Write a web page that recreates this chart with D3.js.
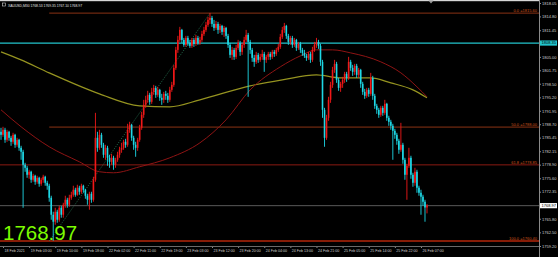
<!DOCTYPE html>
<html>
<head>
<meta charset="utf-8">
<script src="https://cdn.jsdelivr.net/npm/d3@7"></script>
<style>
    body { margin: 0; background: #000; overflow: hidden; }
    svg { display: block; }
    .axis text { font-family: "Liberation Sans", Arial, sans-serif; fill: #cfcfcf; }
    .axis line { stroke: #8a8a8a; }
    .axis path { display: none; }
</style>
</head>
<body>
<div id="xau_chart"></div>
<script>
        // XAUUSD M30, one value per bar
        var opens = [
            1786.86, 1786.13, 1787.34, 1784.92, 1786.86, 1785.40, 1784.44, 1786.13, 1783.71, 1784.92,
            1782.98, 1782.02, 1778.87, 1778.14, 1776.45, 1777.18, 1775.24, 1776.21, 1774.76, 1775.72,
            1774.27, 1775.24, 1775.97, 1774.51, 1773.79, 1770.88, 1766.77, 1765.08, 1767.50, 1765.56,
            1768.46, 1766.77, 1769.19, 1770.40, 1769.19, 1770.88, 1771.61, 1772.82, 1771.61, 1773.31,
            1772.34, 1773.79, 1772.82, 1771.37, 1770.40, 1771.85, 1770.40, 1775.24, 1785.40, 1782.98,
            1786.13, 1783.71, 1781.29, 1782.98, 1780.56, 1779.59, 1780.56, 1778.87, 1780.08, 1781.29,
            1782.50, 1782.98, 1784.44, 1783.71, 1787.34, 1788.55, 1785.40, 1783.71, 1782.98, 1784.92,
            1787.82, 1790.97, 1793.39, 1794.60, 1795.81, 1794.12, 1796.53, 1797.50, 1795.81, 1797.02,
            1795.08, 1794.60, 1796.05, 1795.57, 1794.60, 1797.02, 1798.23, 1802.34, 1806.70, 1809.12,
            1811.54, 1809.12, 1807.91, 1809.60, 1808.39, 1807.67, 1809.12, 1808.15, 1809.60, 1808.39,
            1809.12, 1810.57, 1811.54, 1812.75, 1813.96, 1814.44, 1812.99, 1812.02, 1812.99, 1811.54,
            1812.51, 1811.06, 1812.02, 1810.09, 1807.91, 1805.49, 1806.70, 1805.01, 1807.18, 1808.39,
            1806.22, 1807.91, 1809.12, 1810.33, 1808.63, 1806.70, 1804.76, 1803.80, 1805.49, 1804.28,
            1805.01, 1805.73, 1804.28, 1805.01, 1805.73, 1805.01, 1806.22, 1805.73, 1806.70, 1807.43,
            1809.85, 1811.54, 1812.51, 1810.09, 1808.63, 1809.60, 1807.91, 1809.12, 1807.18, 1808.15,
            1806.70, 1805.97, 1805.25, 1804.76, 1805.73, 1804.28, 1806.70, 1807.91, 1808.63, 1807.67,
            1803.80, 1792.18, 1785.40, 1790.24, 1794.60, 1798.23, 1801.86, 1803.31, 1799.44, 1797.50,
            1798.47, 1799.44, 1800.89, 1799.92, 1803.80, 1802.34, 1801.38, 1802.83, 1800.65, 1801.86,
            1798.47, 1796.53, 1795.57, 1797.02, 1796.05, 1799.92, 1795.57, 1793.15, 1792.18, 1790.97,
            1792.66, 1791.45, 1793.63, 1790.24, 1789.28, 1788.31, 1787.10, 1786.13, 1784.68, 1782.50,
            1783.71, 1780.08, 1776.45, 1778.63, 1780.56, 1776.45, 1774.51, 1777.18, 1773.31, 1772.09,
            1771.13, 1769.92, 1768.53
        ];
        var highs = [
            1787.82, 1788.07, 1787.82, 1787.34, 1787.10, 1785.89, 1786.61, 1786.37, 1785.40, 1785.16,
            1783.47, 1782.50, 1779.35, 1778.63, 1777.66, 1777.42, 1776.69, 1776.45, 1776.21, 1775.97,
            1775.72, 1776.45, 1776.21, 1775.00, 1774.27, 1771.37, 1767.50, 1768.46, 1767.98, 1768.95,
            1768.95, 1769.67, 1771.37, 1770.88, 1771.61, 1772.34, 1773.79, 1773.31, 1774.03, 1773.79,
            1774.27, 1774.03, 1773.06, 1771.85, 1772.34, 1772.34, 1775.97, 1791.45, 1786.86, 1787.34,
            1786.61, 1784.19, 1783.71, 1783.47, 1781.29, 1781.53, 1781.05, 1780.56, 1782.02, 1783.23,
            1784.19, 1784.92, 1785.16, 1788.79, 1789.28, 1788.79, 1785.89, 1784.44, 1785.40, 1788.55,
            1791.70, 1794.60, 1795.57, 1796.78, 1796.29, 1797.50, 1798.23, 1797.99, 1797.75, 1797.26,
            1796.05, 1796.53, 1796.78, 1796.29, 1797.75, 1798.96, 1803.07, 1807.43, 1810.09, 1812.27,
            1811.78, 1809.60, 1810.09, 1810.09, 1809.12, 1809.60, 1809.60, 1810.33, 1810.09, 1809.85,
            1811.30, 1812.27, 1813.48, 1814.69, 1815.65, 1814.93, 1813.96, 1813.72, 1813.48, 1812.99,
            1812.75, 1812.51, 1812.27, 1810.57, 1808.39, 1807.43, 1807.18, 1807.91, 1809.12, 1808.88,
            1808.39, 1809.85, 1811.54, 1810.81, 1809.12, 1807.18, 1805.49, 1806.22, 1805.97, 1805.73,
            1806.70, 1806.22, 1805.49, 1806.22, 1806.22, 1806.70, 1806.70, 1807.18, 1808.15, 1810.57,
            1812.27, 1813.23, 1812.75, 1810.57, 1810.09, 1810.09, 1809.60, 1809.36, 1808.63, 1808.63,
            1807.18, 1806.70, 1805.73, 1806.22, 1806.22, 1807.43, 1808.63, 1809.60, 1809.12, 1808.15,
            1804.28, 1792.66, 1790.97, 1795.33, 1798.96, 1802.59, 1804.28, 1803.80, 1799.92, 1798.96,
            1800.17, 1801.38, 1801.38, 1805.01, 1804.28, 1803.07, 1803.31, 1803.31, 1802.34, 1802.10,
            1798.96, 1797.26, 1797.50, 1797.50, 1801.13, 1800.41, 1796.05, 1793.63, 1792.66, 1793.15,
            1793.15, 1794.60, 1793.87, 1790.73, 1789.76, 1788.79, 1787.58, 1786.61, 1785.16, 1789.03,
            1784.19, 1780.56, 1779.11, 1782.98, 1781.05, 1776.93, 1778.14, 1777.66, 1773.79, 1772.82,
            1771.61, 1770.40, 1769.35
        ];
        var lows = [
            1784.92, 1785.65, 1784.19, 1784.44, 1784.68, 1783.47, 1783.95, 1782.98, 1783.23, 1782.26,
            1780.08, 1768.46, 1777.18, 1775.72, 1775.48, 1774.51, 1774.76, 1774.03, 1774.27, 1773.55,
            1773.79, 1774.51, 1773.79, 1772.82, 1769.92, 1765.56, 1760.48, 1764.35, 1764.83, 1765.08,
            1766.05, 1766.05, 1768.46, 1768.46, 1768.71, 1770.40, 1771.13, 1771.13, 1771.37, 1771.61,
            1771.85, 1772.09, 1770.64, 1769.19, 1767.98, 1769.67, 1769.92, 1774.76, 1782.02, 1782.50,
            1782.98, 1780.56, 1780.08, 1778.63, 1778.14, 1778.87, 1777.66, 1778.14, 1779.59, 1780.56,
            1781.77, 1782.50, 1782.98, 1783.23, 1786.61, 1784.68, 1782.50, 1780.81, 1782.26, 1784.44,
            1787.34, 1790.24, 1792.66, 1793.87, 1793.39, 1793.63, 1795.81, 1795.08, 1795.33, 1794.36,
            1793.39, 1793.87, 1794.60, 1793.87, 1794.12, 1796.53, 1797.75, 1801.86, 1805.97, 1808.63,
            1808.39, 1807.43, 1807.43, 1807.67, 1807.18, 1807.18, 1807.43, 1807.67, 1807.91, 1807.91,
            1808.63, 1810.09, 1811.06, 1812.27, 1812.99, 1812.27, 1811.30, 1811.54, 1810.57, 1810.81,
            1810.33, 1809.85, 1809.36, 1807.18, 1804.76, 1804.28, 1804.28, 1804.52, 1806.70, 1805.25,
            1805.49, 1807.18, 1808.63, 1795.33, 1805.73, 1803.80, 1802.59, 1803.31, 1803.55, 1803.80,
            1804.28, 1801.38, 1803.55, 1804.28, 1804.28, 1804.52, 1805.01, 1805.25, 1806.22, 1806.94,
            1809.36, 1810.81, 1809.36, 1807.91, 1807.91, 1807.18, 1807.43, 1806.46, 1806.70, 1805.97,
            1805.25, 1804.76, 1804.04, 1804.28, 1803.55, 1803.80, 1806.22, 1807.18, 1806.94, 1802.83,
            1790.24, 1783.23, 1784.92, 1789.52, 1793.87, 1797.50, 1801.13, 1798.71, 1796.78, 1796.53,
            1797.50, 1798.71, 1798.96, 1799.44, 1801.62, 1800.41, 1800.65, 1799.92, 1799.92, 1797.50,
            1795.81, 1794.84, 1795.08, 1795.33, 1795.57, 1794.60, 1792.42, 1791.21, 1790.24, 1790.49,
            1790.73, 1790.97, 1789.52, 1788.31, 1787.34, 1780.08, 1785.16, 1783.71, 1781.53, 1782.02,
            1779.11, 1775.24, 1770.40, 1778.14, 1775.48, 1773.55, 1773.79, 1772.09, 1771.37, 1766.77,
            1768.95, 1765.08, 1767.10
        ];
        var closes = [
            1786.13, 1787.34, 1784.92, 1786.86, 1785.40, 1784.44, 1786.13, 1783.71, 1784.92, 1782.98,
            1782.02, 1778.87, 1778.14, 1776.45, 1777.18, 1775.24, 1776.21, 1774.76, 1775.72, 1774.27,
            1775.24, 1775.97, 1774.51, 1773.79, 1770.88, 1766.77, 1765.08, 1767.50, 1765.56, 1768.46,
            1766.77, 1769.19, 1770.40, 1769.19, 1770.88, 1771.61, 1772.82, 1771.61, 1773.31, 1772.34,
            1773.79, 1772.82, 1771.37, 1770.40, 1771.85, 1770.40, 1775.24, 1785.40, 1782.98, 1786.13,
            1783.71, 1781.29, 1782.98, 1780.56, 1779.59, 1780.56, 1778.87, 1780.08, 1781.29, 1782.50,
            1782.98, 1784.44, 1783.71, 1787.34, 1788.55, 1785.40, 1783.71, 1782.98, 1784.92, 1787.82,
            1790.97, 1793.39, 1794.60, 1795.81, 1794.12, 1796.53, 1797.50, 1795.81, 1797.02, 1795.08,
            1794.60, 1796.05, 1795.57, 1794.60, 1797.02, 1798.23, 1802.34, 1806.70, 1809.12, 1811.54,
            1809.12, 1807.91, 1809.60, 1808.39, 1807.67, 1809.12, 1808.15, 1809.60, 1808.39, 1809.12,
            1810.57, 1811.54, 1812.75, 1813.96, 1814.44, 1812.99, 1812.02, 1812.99, 1811.54, 1812.51,
            1811.06, 1812.02, 1810.09, 1807.91, 1805.49, 1806.70, 1805.01, 1807.18, 1808.39, 1806.22,
            1807.91, 1809.12, 1810.33, 1808.63, 1806.70, 1804.76, 1803.80, 1805.49, 1804.28, 1805.01,
            1805.73, 1804.28, 1805.01, 1805.73, 1805.01, 1806.22, 1805.73, 1806.70, 1807.43, 1809.85,
            1811.54, 1812.51, 1810.09, 1808.63, 1809.60, 1807.91, 1809.12, 1807.18, 1808.15, 1806.70,
            1805.97, 1805.25, 1804.76, 1805.73, 1804.28, 1806.70, 1807.91, 1808.63, 1807.67, 1803.80,
            1792.18, 1785.40, 1790.24, 1794.60, 1798.23, 1801.86, 1803.31, 1799.44, 1797.50, 1798.47,
            1799.44, 1800.89, 1799.92, 1803.80, 1802.34, 1801.38, 1802.83, 1800.65, 1801.86, 1798.47,
            1796.53, 1795.57, 1797.02, 1796.05, 1799.92, 1795.57, 1793.15, 1792.18, 1790.97, 1792.66,
            1791.45, 1793.63, 1790.24, 1789.28, 1788.31, 1787.10, 1786.13, 1784.68, 1782.50, 1783.71,
            1780.08, 1776.45, 1778.63, 1780.56, 1776.45, 1774.51, 1777.18, 1773.31, 1772.09, 1771.13,
            1769.92, 1768.53, 1768.97
        ];

        // moving averages, sampled at bar index
        var maYellowBar = [0, 10, 24, 49, 69, 84, 99, 124, 140, 157, 169, 184, 194, 205, 212];
        var maYellow = [1806.22, 1804.28, 1801.13, 1796.05, 1793.15, 1792.91, 1794.60, 1797.99, 1799.44,
            1800.65, 1799.92, 1799.92, 1798.71, 1797.02, 1795.08];
        var maRedBar = [0, 10, 24, 39, 49, 56, 69, 84, 99, 112, 124, 139, 149, 157, 165, 174, 189, 199, 207, 212];
        var maRed = [1792.18, 1788.07, 1783.23, 1779.59, 1777.18, 1776.93, 1778.39, 1780.56, 1784.19, 1789.76,
            1797.02, 1802.59, 1805.25, 1806.70, 1806.70, 1805.97, 1803.80, 1801.13, 1797.75, 1795.33];

        // fibo
        var fibNames = ["0.0", "50.0", "61.8", "100.0"];
        var fibPrices = [1815.60, 1788.00, 1778.85, 1760.40];
        var fibBars = [24, 104];

        var priceTicks = [1818.05, 1814.80, 1811.45, 1805.00, 1801.75, 1798.50, 1795.20, 1791.95, 1788.70,
            1785.45, 1782.15, 1778.90, 1775.60, 1772.35, 1765.80, 1762.50, 1759.20];
        var timeLabels = ["18 Feb 2021", "19 Feb 03:00", "19 Feb 10:00", "19 Feb 18:00", "22 Feb 02:00",
            "22 Feb 11:00", "22 Feb 19:00", "23 Feb 03:00", "23 Feb 12:00", "23 Feb 20:00", "24 Feb 04:00",
            "24 Feb 13:00", "24 Feb 21:00", "25 Feb 05:00", "25 Feb 14:00", "25 Feb 22:00", "26 Feb 07:00"];
        var timeBars = [1, 14, 27, 40, 53, 66, 79, 92, 105, 118, 131, 144, 157, 170, 183, 196, 209];

        var bidLine = 1808.35;
        var lastPrice = 1768.97;
        var header = "XAUUSD,M30  1768.53 1769.35 1767.10 1768.97";

        var width = 558, height = 257,
            plot_right = 539, plot_bottom = 246;

        var svg = d3.select("#xau_chart").append("svg")
            .attr("width", width)
            .attr("height", height)
            .style("background", "#000");

        var x = d3.scaleLinear().domain([0, 212]).range([1, 427]);
        var y = d3.scaleLinear().domain([1759.20, 1818.05]).range([plot_bottom, 3]);

        svg.append("defs").append("clipPath").attr("id", "plotclip")
            .append("rect").attr("x", 0).attr("y", 0).attr("width", plot_right).attr("height", plot_bottom);

        var plot = svg.append("g").attr("clip-path", "url(#plotclip)");

        // top strip
        svg.append("rect").attr("x", 0).attr("y", 0).attr("width", plot_right).attr("height", 1.2)
            .attr("fill", "#d6d6d6");
        svg.append("path").attr("d", "M428.5,0.5 L433.5,0.5 L431,3.5 Z").attr("fill", "#9a9a9a");

        // horizontal levels
        fibPrices.forEach(function (p, i) {
            var x0 = i < 2 ? x(fibBars[0]) : 0;
            plot.append("line")
                .attr("x1", x0).attr("x2", plot_right)
                .attr("y1", y(p)).attr("y2", y(p))
                .attr("stroke", i == 3 ? "#b5260a" : (i == 2 ? "#8a1a12" : "#8a3214"))
                .attr("stroke-width", i == 3 ? 1.6 : 1);
            plot.append("text")
                .attr("x", 537).attr("y", y(p) - 1)
                .attr("text-anchor", "end")
                .style("font-family", "Liberation Sans, Arial, sans-serif")
                .style("font-size", "4px")
                .attr("fill", "#d2541c")
                .text(fibNames[i] + " =" + p.toFixed(2));
        });

        plot.append("line")
            .attr("x1", x(fibBars[0])).attr("y1", y(fibPrices[3]))
            .attr("x2", x(fibBars[1])).attr("y2", y(fibPrices[0]))
            .attr("stroke", "#2d8a62").attr("stroke-width", 0.8)
            .attr("stroke-dasharray", "1,1.5");

        plot.append("line")
            .attr("x1", 0).attr("x2", plot_right)
            .attr("y1", y(bidLine)).attr("y2", y(bidLine))
            .attr("stroke", "#22c4cc").attr("stroke-width", 1.2);

        plot.append("line")
            .attr("x1", 0).attr("x2", plot_right)
            .attr("y1", y(lastPrice)).attr("y2", y(lastPrice))
            .attr("stroke", "#5a5a5a").attr("stroke-width", 1);

        // moving averages
        var maLine = d3.line()
            .x(function (d) { return x(d[0]); })
            .y(function (d) { return y(d[1]); })
            .curve(d3.curveMonotoneX);

        plot.append("path")
            .attr("d", maLine(d3.zip(maYellowBar, maYellow)))
            .attr("fill", "none").attr("stroke", "#959320").attr("stroke-width", 1.2);

        plot.append("path")
            .attr("d", maLine(d3.zip(maRedBar, maRed)))
            .attr("fill", "none").attr("stroke", "#8e1414").attr("stroke-width", 1);

        // candles
        var bars = d3.range(closes.length);
        var up = "#f01818", down = "#1ed8e6";

        var candle = plot.selectAll(".candle")
            .data(bars)
            .enter().append("g")
            .attr("class", "candle");

        candle.append("line")
            .attr("x1", function (d) { return x(d); })
            .attr("x2", function (d) { return x(d); })
            .attr("y1", function (d) { return y(highs[d]); })
            .attr("y2", function (d) { return y(lows[d]); })
            .attr("stroke", function (d) { return closes[d] >= opens[d] ? up : down; })
            .attr("stroke-width", 0.9);

        candle.append("rect")
            .attr("x", function (d) { return x(d) - 0.8; })
            .attr("width", 1.6)
            .attr("y", function (d) { return y(Math.max(opens[d], closes[d])); })
            .attr("height", function (d) {
                return Math.max(0.8, Math.abs(y(opens[d]) - y(closes[d])));
            })
            .attr("fill", function (d) { return closes[d] >= opens[d] ? up : down; });

        // price axis
        var yAxis = d3.axisRight(y)
            .tickValues(priceTicks)
            .tickSize(2)
            .tickPadding(1)
            .tickFormat(d3.format(".2f"));

        svg.append("g")
            .attr("class", "y axis")
            .attr("transform", "translate(" + plot_right + ",0)")
            .call(yAxis)
            .selectAll("text").style("font-size", "4px");

        svg.append("line")
            .attr("x1", plot_right + 0.5).attr("x2", plot_right + 0.5)
            .attr("y1", 0).attr("y2", height)
            .attr("stroke", "#8a8a8a");

        // time axis
        var xAxis = d3.axisBottom(x)
            .tickValues(timeBars)
            .tickSize(2)
            .tickPadding(1)
            .tickFormat(function (d, i) { return timeLabels[i]; });

        svg.append("g")
            .attr("class", "x axis")
            .attr("transform", "translate(0," + plot_bottom + ")")
            .call(xAxis)
            .selectAll("text")
            .style("font-size", "3.6px")
            .style("text-anchor", "start")
            .attr("x", 1);

        svg.append("line")
            .attr("x1", 0).attr("x2", plot_right)
            .attr("y1", plot_bottom + 0.5).attr("y2", plot_bottom + 0.5)
            .attr("stroke", "#6a6a6a");

        // price tags on the axis
        [[bidLine, "#22c4cc"], [lastPrice, "#ffffff"]].forEach(function (t) {
            svg.append("rect")
                .attr("x", plot_right + 1).attr("y", y(t[0]) - 2.6)
                .attr("width", 17).attr("height", 5.2)
                .attr("fill", t[1]);
            svg.append("text")
                .attr("x", plot_right + 2.5).attr("y", y(t[0]) + 1.4)
                .style("font-family", "Liberation Sans, Arial, sans-serif")
                .style("font-size", "4px")
                .attr("fill", "#000")
                .text(t[0].toFixed(2));
        });

        // header + big last price
        svg.append("rect").attr("x", 2.5).attr("y", 3).attr("width", 3).attr("height", 3)
            .attr("fill", "none").attr("stroke", "#cfcfcf").attr("stroke-width", 0.6);
        svg.append("text")
            .attr("x", 8).attr("y", 6.8)
            .attr("textLength", 74).attr("lengthAdjust", "spacingAndGlyphs")
            .style("font-family", "Liberation Sans, Arial, sans-serif")
            .style("font-size", "4px")
            .attr("fill", "#e6e6e6")
            .text(header);

        svg.append("text")
            .attr("x", 3).attr("y", 240)
            .style("font-family", "Liberation Sans, Arial, sans-serif")
            .style("font-size", "20.5px")
            .attr("fill", "#7cfc00")
            .text(d3.format(".2f")(lastPrice));
</script>
</body>
</html>
